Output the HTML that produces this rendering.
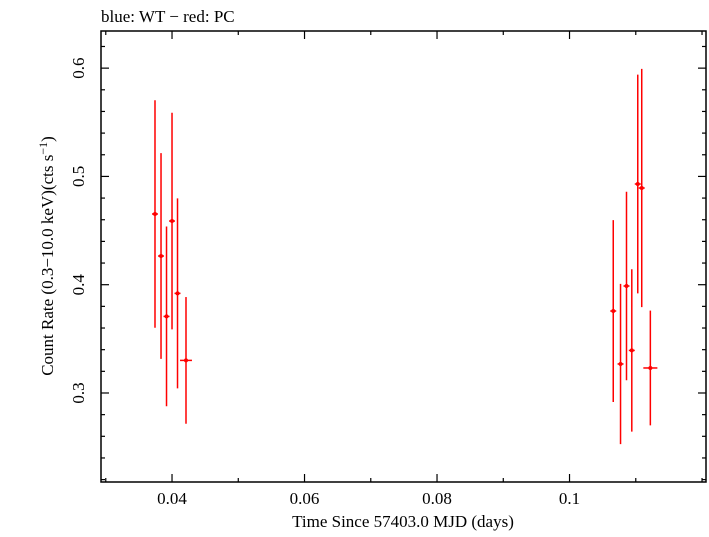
<!DOCTYPE html>
<html><head><meta charset="utf-8"><style>
body{margin:0;background:#fff;width:709px;height:532px;overflow:hidden}
text{font-family:"Liberation Serif",serif;fill:#000}
</style></head><body>
<svg id="chart" width="709" height="532" xmlns="http://www.w3.org/2000/svg">
<text x="101" y="22" font-size="17">blue: WT − red: PC</text>
<rect x="101" y="31" width="605" height="451" fill="none" stroke="#000" stroke-width="1.5"/>
<g id="ticks"></g>
<g id="marks"></g>
<text x="403" y="527" font-size="17" text-anchor="middle">Time Since 57403.0 MJD (days)</text>
<text transform="translate(53,256) rotate(-90)" font-size="17" text-anchor="middle">Count Rate (0.3−10.0 keV)(cts s<tspan dy="-6" font-size="12">−1</tspan><tspan dy="6">)</tspan></text>
</svg>
<script>
const times=[0.03743,0.03834,0.03917,0.04000,0.04083,0.04211,0.1066,0.1077,0.1086,0.1094,0.1103,0.1109,0.1122];
const timeErr=[0.00045,0.00045,0.00045,0.00045,0.00045,0.0009,0.00045,0.00045,0.00045,0.00045,0.00045,0.00045,0.00106];
const rates=[0.4653,0.4265,0.3707,0.4588,0.3920,0.3301,0.3757,0.3268,0.3988,0.3393,0.4930,0.4893,0.3231];
const rateErr=[0.105,0.095,0.083,0.1,0.0877,0.0585,0.084,0.074,0.087,0.075,0.101,0.11,0.053];
const xTicks=[0.04,0.06,0.08,0.1];
const xTickLabels=["0.04","0.06","0.08","0.1"];
const yTicks=[0.3,0.4,0.5,0.6];
const yTickLabels=["0.3","0.4","0.5","0.6"];
const X0=101,X1=706,Y0=482,Y1=31,xmin=0.02928,xmax=0.1206,ymin=0.2178,ymax=0.6343;
const sx=v=>X0+(v-xmin)/(xmax-xmin)*(X1-X0);
const sy=v=>Y0-(v-ymin)/(ymax-ymin)*(Y0-Y1);
const NS="http://www.w3.org/2000/svg";
const tg=document.getElementById('ticks'),mg=document.getElementById('marks');
function ln(g,x1,y1,x2,y2,c,w){const l=document.createElementNS(NS,'line');l.setAttribute('x1',x1);l.setAttribute('y1',y1);l.setAttribute('x2',x2);l.setAttribute('y2',y2);l.setAttribute('stroke',c);l.setAttribute('stroke-width',w);g.appendChild(l);return l;}
for(let v=0.03;v<=0.12;v+=0.01){const x=sx(v);const maj=xTicks.some(t=>Math.abs(t-v)<1e-6);const L=maj?8:4;
const a=ln(tg,x,Y0,x,Y0-L,'#000',1.2);
const b=ln(tg,x,Y1,x,Y1+L,'#000',1.2);}
for(let v=0.22;v<=0.63;v+=0.02){const y=sy(v);const maj=yTicks.some(t=>Math.abs(t-v)<1e-6);const L=maj?8:4;
const a=ln(tg,X0,y,X0+L,y,'#000',1.2);
const b=ln(tg,X1,y,X1-L,y,'#000',1.2);}
xTicks.forEach((v,i)=>{const t=document.createElementNS(NS,'text');t.setAttribute('x',sx(v));t.setAttribute('y',504);t.setAttribute('font-size','17');t.setAttribute('text-anchor','middle');t.textContent=xTickLabels[i];


tg.appendChild(t);});
yTicks.forEach((v,i)=>{const t=document.createElementNS(NS,'text');t.setAttribute('transform',`translate(84,${sy(v)}) rotate(-90)`);t.setAttribute('font-size','17');t.setAttribute('text-anchor','middle');t.textContent=yTickLabels[i];


tg.appendChild(t);});
times.forEach((t,i)=>{const g=document.createElementNS(NS,'g');


ln(g,sx(t),sy(rates[i]-rateErr[i]),sx(t),sy(rates[i]+rateErr[i]),'#f00',1.5);
ln(g,sx(t-timeErr[i]),sy(rates[i]),sx(t+timeErr[i]),sy(rates[i]),'#f00',1.5);
const c=document.createElementNS(NS,'circle');c.setAttribute('cx',sx(t));c.setAttribute('cy',sy(rates[i]));c.setAttribute('r',2);c.setAttribute('fill','#f00');g.appendChild(c);
mg.appendChild(g);});
</script>
</body></html>
